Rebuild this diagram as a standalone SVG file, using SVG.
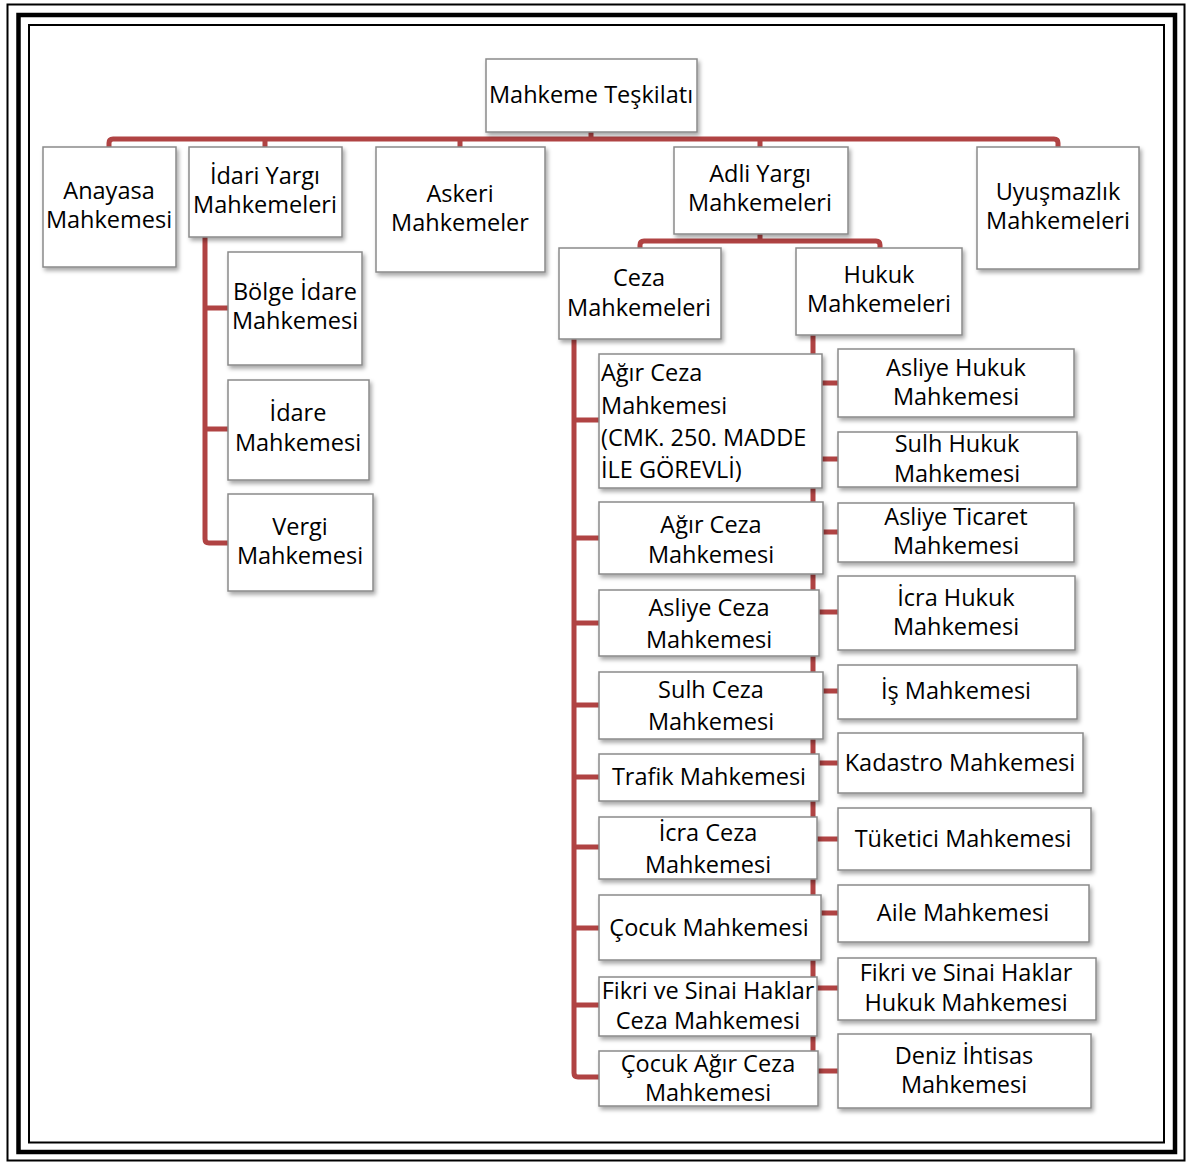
<svg xmlns="http://www.w3.org/2000/svg" width="1192" height="1162" viewBox="0 0 1192 1162">
<defs>
<filter id="sh" x="-10%" y="-10%" width="125%" height="130%">
<feDropShadow dx="2" dy="3" stdDeviation="2" flood-color="#000" flood-opacity="0.35"/>
</filter>
<style>
.box{fill:#fff;stroke:#8a8a8a;stroke-width:1.5;filter:url(#sh)}
.t{font-family:"Open Sans","Noto Sans","DejaVu Sans",sans-serif;font-size:23.5px;fill:#000;text-anchor:middle}
.tl{text-anchor:start}
.c{fill:none;stroke:#b04343;stroke-width:5;stroke-linejoin:round}
.frame{fill:none;stroke:#000}
</style>
</defs>
<rect width="1192" height="1162" fill="#fff"/>
<g id="frame">
<rect class="frame" x="7.5" y="4.5" width="1177" height="1156" stroke-width="2"/>
<rect class="frame" x="18.5" y="15" width="1156.5" height="1137" stroke-width="4.5"/>
<rect class="frame" x="29" y="25" width="1135" height="1117.5" stroke-width="2"/>
</g>
<g id="connectors">
<path class="c" d="M591,132 V139"/>
<path class="c" d="M109,147 V143 Q109,139 113,139 H1054 Q1058,139 1058,143 V147"/>
<path class="c" d="M265,139 V147 M460,139 V147 M760,139 V147"/>
<path class="c" d="M205,237 V539 Q205,543 209,543 H228 M205,308 H228 M205,429 H228"/>
<path class="c" d="M760,234 V241"/>
<path class="c" d="M640,249 V245 Q640,241 644,241 H876 Q880,241 880,245 V248"/>
<path class="c" d="M813,335 V1067 Q813,1071 817,1071 H838 M813,383 H838 M813,459 H838 M813,532 H838 M813,612 H838 M813,691 H838 M813,763 H838 M813,839 H838 M813,913 H838 M813,988 H838"/>
<path class="c" d="M574,339 V1073 Q574,1077 578,1077 H599 M574,420 H599 M574,538 H599 M574,623 H599 M574,705 H599 M574,777 H599 M574,847 H599 M574,928 H599 M574,1005 H599"/>
</g>
<g id="n-root"><rect class="box" x="486" y="59" width="211" height="73"/><text class="t" x="591" y="103">Mahkeme Teşkilatı</text></g>
<g id="n-anayasa"><rect class="box" x="43" y="147" width="133" height="120"/><text class="t" x="109" y="199">Anayasa</text><text class="t" x="109" y="228">Mahkemesi</text></g>
<g id="n-idari"><rect class="box" x="189" y="147" width="153" height="90"/><text class="t" x="265" y="184">İdari Yargı</text><text class="t" x="265" y="213">Mahkemeleri</text></g>
<g id="n-askeri"><rect class="box" x="376" y="147" width="169" height="125"/><text class="t" x="460" y="202">Askeri</text><text class="t" x="460" y="231">Mahkemeler</text></g>
<g id="n-adli"><rect class="box" x="674" y="147" width="174" height="87"/><text class="t" x="760" y="182">Adli Yargı</text><text class="t" x="760" y="211">Mahkemeleri</text></g>
<g id="n-uyusmazlik"><rect class="box" x="977" y="147" width="162" height="122"/><text class="t" x="1058" y="200">Uyuşmazlık</text><text class="t" x="1058" y="229">Mahkemeleri</text></g>
<g id="n-bolge"><rect class="box" x="228" y="252" width="134" height="113"/><text class="t" x="295" y="300">Bölge İdare</text><text class="t" x="295" y="329">Mahkemesi</text></g>
<g id="n-idare"><rect class="box" x="228" y="380" width="141" height="100"/><text class="t" x="298" y="421">İdare</text><text class="t" x="298" y="451">Mahkemesi</text></g>
<g id="n-vergi"><rect class="box" x="228" y="494" width="145" height="97"/><text class="t" x="300" y="535">Vergi</text><text class="t" x="300" y="564">Mahkemesi</text></g>
<g id="n-ceza"><rect class="box" x="559" y="248" width="162" height="91"/><text class="t" x="639" y="286">Ceza</text><text class="t" x="639" y="316">Mahkemeleri</text></g>
<g id="n-hukuk"><rect class="box" x="796" y="248" width="166" height="87"/><text class="t" x="879" y="283">Hukuk</text><text class="t" x="879" y="312">Mahkemeleri</text></g>
<g id="n-agir-cmk"><rect class="box" x="599" y="354" width="223" height="134"/><text class="t tl" x="601" y="381">Ağır Ceza</text><text class="t tl" x="601" y="414">Mahkemesi</text><text class="t tl" x="601" y="446">(CMK. 250. MADDE</text><text class="t tl" x="601" y="478">İLE GÖREVLİ)</text></g>
<g id="n-agir"><rect class="box" x="599" y="502" width="224" height="72"/><text class="t" x="711" y="533">Ağır Ceza</text><text class="t" x="711" y="563">Mahkemesi</text></g>
<g id="n-asliye-ceza"><rect class="box" x="599" y="590" width="220" height="66"/><text class="t" x="709" y="616">Asliye Ceza</text><text class="t" x="709" y="648">Mahkemesi</text></g>
<g id="n-sulh-ceza"><rect class="box" x="599" y="672" width="224" height="67"/><text class="t" x="711" y="698">Sulh Ceza</text><text class="t" x="711" y="730">Mahkemesi</text></g>
<g id="n-trafik"><rect class="box" x="599" y="754" width="220" height="47"/><text class="t" x="709" y="785">Trafik Mahkemesi</text></g>
<g id="n-icra-ceza"><rect class="box" x="599" y="817" width="218" height="62"/><text class="t" x="708" y="841">İcra Ceza</text><text class="t" x="708" y="873">Mahkemesi</text></g>
<g id="n-cocuk"><rect class="box" x="599" y="895" width="222" height="65"/><text class="t" x="709" y="936">Çocuk Mahkemesi</text></g>
<g id="n-fikri-ceza"><rect class="box" x="599" y="977" width="218" height="59"/><text class="t" x="708" y="999">Fikri ve Sinai Haklar</text><text class="t" x="708" y="1029">Ceza Mahkemesi</text></g>
<g id="n-cocuk-agir"><rect class="box" x="599" y="1051" width="219" height="55"/><text class="t" x="708" y="1072">Çocuk Ağır Ceza</text><text class="t" x="708" y="1101">Mahkemesi</text></g>
<g id="n-asliye-hukuk"><rect class="box" x="838" y="349" width="236" height="68"/><text class="t" x="956" y="376">Asliye Hukuk</text><text class="t" x="956" y="405">Mahkemesi</text></g>
<g id="n-sulh-hukuk"><rect class="box" x="838" y="432" width="239" height="55"/><text class="t" x="957" y="452">Sulh Hukuk</text><text class="t" x="957" y="482">Mahkemesi</text></g>
<g id="n-asliye-ticaret"><rect class="box" x="838" y="503" width="236" height="59"/><text class="t" x="956" y="525">Asliye Ticaret</text><text class="t" x="956" y="554">Mahkemesi</text></g>
<g id="n-icra-hukuk"><rect class="box" x="838" y="576" width="237" height="74"/><text class="t" x="956" y="606">İcra Hukuk</text><text class="t" x="956" y="635">Mahkemesi</text></g>
<g id="n-is"><rect class="box" x="838" y="665" width="239" height="54"/><text class="t" x="956" y="699">İş Mahkemesi</text></g>
<g id="n-kadastro"><rect class="box" x="838" y="733" width="245" height="60"/><text class="t" x="960" y="771">Kadastro Mahkemesi</text></g>
<g id="n-tuketici"><rect class="box" x="838" y="808" width="253" height="62"/><text class="t" x="963" y="847">Tüketici Mahkemesi</text></g>
<g id="n-aile"><rect class="box" x="838" y="885" width="251" height="57"/><text class="t" x="963" y="921">Aile Mahkemesi</text></g>
<g id="n-fikri-hukuk"><rect class="box" x="838" y="958" width="258" height="62"/><text class="t" x="966" y="981">Fikri ve Sinai Haklar</text><text class="t" x="966" y="1011">Hukuk Mahkemesi</text></g>
<g id="n-deniz"><rect class="box" x="838" y="1034" width="253" height="74"/><text class="t" x="964" y="1064">Deniz İhtisas</text><text class="t" x="964" y="1093">Mahkemesi</text></g>
</svg>
